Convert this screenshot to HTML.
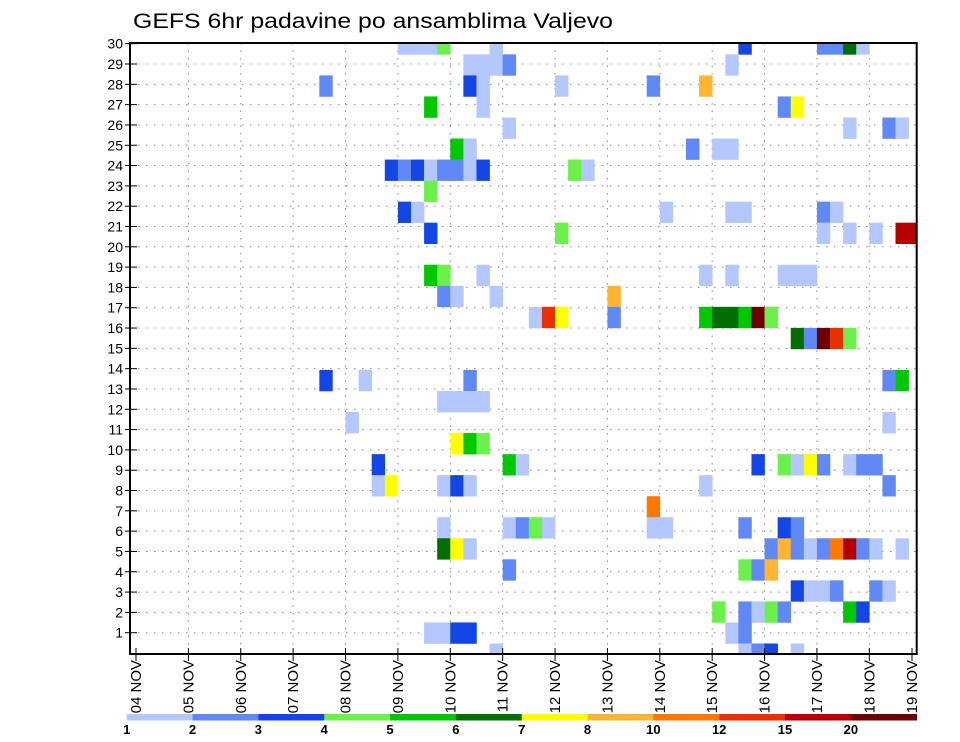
<!DOCTYPE html>
<html><head><meta charset="utf-8"><style>
html,body{margin:0;padding:0;background:#fff;}
svg{display:block;font-family:"Liberation Sans",sans-serif;}
</style></head><body>
<svg id="chart" width="960" height="742" viewBox="0 0 960 742" xmlns="http://www.w3.org/2000/svg">
<rect width="960" height="742" fill="#fff"/>
<text x="133" y="28" font-size="21" textLength="480" lengthAdjust="spacingAndGlyphs" fill="#000">GEFS 6hr padavine po ansamblima Valjevo</text>
<defs><clipPath id="plotclip"><rect x="130" y="43" width="786.7" height="611"/></clipPath></defs>
<g id="grid"></g>
<g id="cells" clip-path="url(#plotclip)"></g>
<rect x="130" y="43" width="786.7" height="611" fill="none" stroke="#000" stroke-width="2"/>
<g id="axes"></g>
<g id="colorbar"></g>
</svg>
<script>
const dayLabels = ["04 NOV","05 NOV","06 NOV","07 NOV","08 NOV","09 NOV","10 NOV","11 NOV","12 NOV","13 NOV","14 NOV","15 NOV","16 NOV","17 NOV","18 NOV","19 NOV"];
const rowLabels = [1,2,3,4,5,6,7,8,9,10,11,12,13,14,15,16,17,18,19,20,21,22,23,24,25,26,27,28,29,30];
const levelLabels = ["1","2","3","4","5","6","7","8","10","12","15","20"];
const levelColors = ["#b4c8ff","#6089f5","#1446e6","#6cf04c","#00c800","#006e00","#ffff00","#ffb432","#ff7800","#e63200","#b40000","#6e0000"];
// [6h step index, member row, level (1..12)]
const cells = [
[20,30,1],[21,30,1],[22,30,1],[23,30,4],[27,30,1],[46,30,3],[52,30,2],[53,30,2],[54,30,6],[55,30,1],
[25,29,1],[26,29,1],[27,29,1],[28,29,2],[45,29,1],
[14,28,2],[25,28,3],[26,28,1],[32,28,1],[39,28,2],[43,28,8],
[22,27,5],[26,27,1],[49,27,2],[50,27,7],
[28,26,1],[54,26,1],[57,26,2],[58,26,1],
[24,25,5],[25,25,1],[42,25,2],[44,25,1],[45,25,1],
[19,24,3],[20,24,2],[21,24,3],[22,24,1],[23,24,2],[24,24,2],[25,24,1],[26,24,3],[33,24,4],[34,24,1],
[22,23,4],
[20,22,3],[21,22,1],[40,22,1],[45,22,1],[46,22,1],[52,22,2],[53,22,1],
[22,21,3],[32,21,4],[52,21,1],[54,21,1],[56,21,1],[58,21,11],[59,21,11],
[22,19,5],[23,19,4],[26,19,1],[43,19,1],[45,19,1],[49,19,1],[50,19,1],[51,19,1],
[23,18,2],[24,18,1],[27,18,1],[36,18,8],
[30,17,1],[31,17,10],[32,17,7],[36,17,2],[43,17,5],[44,17,6],[45,17,6],[46,17,5],[47,17,12],[48,17,4],
[50,16,6],[51,16,2],[52,16,12],[53,16,10],[54,16,4],
[14,14,3],[17,14,1],[25,14,2],[57,14,2],[58,14,5],
[23,13,1],[24,13,1],[25,13,1],[26,13,1],
[16,12,1],[57,12,1],
[24,11,7],[25,11,5],[26,11,4],
[18,10,3],[28,10,5],[29,10,1],[47,10,3],[49,10,4],[50,10,1],[51,10,7],[52,10,2],[54,10,1],[55,10,2],[56,10,2],
[18,9,1],[19,9,7],[23,9,1],[24,9,3],[25,9,1],[43,9,1],[57,9,2],
[39,8,9],
[23,7,1],[28,7,1],[29,7,2],[30,7,4],[31,7,1],[39,7,1],[40,7,1],[46,7,2],[49,7,3],[50,7,2],
[23,6,6],[24,6,7],[25,6,1],[48,6,2],[49,6,8],[50,6,2],[51,6,1],[52,6,2],[53,6,9],[54,6,11],[55,6,2],[56,6,1],[58,6,1],
[28,5,2],[46,5,4],[47,5,2],[48,5,8],
[50,4,3],[51,4,1],[52,4,1],[53,4,2],[56,4,2],[57,4,1],
[44,3,4],[46,3,2],[47,3,1],[48,3,4],[49,3,2],[54,3,5],[55,3,3],
[22,2,1],[23,2,1],[24,2,3],[25,2,3],[45,2,1],[46,2,2],
[27,1,1],[46,1,1],[47,1,2],[48,1,3],[50,1,1]
];

const NS = "http://www.w3.org/2000/svg";
const X0 = 136, DAY = 52.38, STEP = DAY/4;
const CELL_TOP_Y = 654, CELL_H = 21.04;
const xDay = d => X0 + d*DAY;
const xStep = s => X0 + s*STEP;
const yCell = j => CELL_TOP_Y - (j-1)*CELL_H;
const yRow = r => 43.7 + (30-r)*20.31;
function mk(tag, attrs, parent){const e=document.createElementNS(NS,tag);for(const k in attrs)e.setAttribute(k,attrs[k]);parent.appendChild(e);return e;}

const grid = document.getElementById('grid');
for (let d=1; d<dayLabels.length-1; d++){
  const l = mk('line',{x1:xDay(d),x2:xDay(d),y1:43,y2:654,stroke:'#888','stroke-width':1,'stroke-dasharray':'1.5,6'},grid);
  
  
}
rowLabels.forEach(r=>{
  const l = mk('line',{x1:130,x2:916,y1:yRow(r),y2:yRow(r),stroke:'#888','stroke-width':1,'stroke-dasharray':'1.5,6.5'},grid);
  
  
});

const cg = document.getElementById('cells');
cells.forEach(c=>{
  const r = mk('rect',{x:xStep(c[0]),y:yCell(c[1])-CELL_H/2,width:STEP+0.3,height:CELL_H+0.3,fill:levelColors[c[2]-1]},cg);
  
  
});

const ax = document.getElementById('axes');
rowLabels.forEach(r=>{
  const t = mk('line',{x1:125,x2:137,y1:yRow(r),y2:yRow(r),stroke:'#000','stroke-width':1},ax);
  
  
  const lb = mk('text',{x:123,y:yRow(r)+5,'font-size':14,'text-anchor':'end',fill:'#000'},ax);
  lb.textContent = r;
  
  
});
dayLabels.forEach((d,i)=>{
  const x = i===dayLabels.length-1 ? 912 : xDay(i);
  const t = mk('line',{x1:x,x2:x,y1:648,y2:661,stroke:'#000','stroke-width':1},ax);
  
  
  const lb = mk('text',{transform:`translate(${x+5},660) rotate(-90)`,'font-size':15,'text-anchor':'end',fill:'#000'},ax);
  lb.textContent = d;
  
  
});

const cb = document.getElementById('colorbar');
const CB0 = 126.7, CBW = (916.7-126.7)/levelColors.length;
levelColors.forEach((col,i)=>{
  const r = mk('rect',{x:CB0+i*CBW,y:714,width:CBW+0.3,height:6.5,fill:col},cb);
  
  
  const lb = mk('text',{x:CB0+i*CBW,y:734,'font-size':13,'font-weight':'bold','text-anchor':'middle',fill:'#000'},cb);
  lb.textContent = levelLabels[i];
  
  
});
</script>
</body></html>
